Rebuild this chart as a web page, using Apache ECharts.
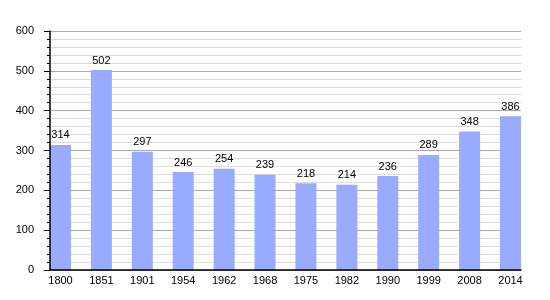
<!DOCTYPE html>
<html><head><meta charset="utf-8">
<script src="https://cdn.jsdelivr.net/npm/echarts@6/dist/echarts.min.js"></script>
<style>html,body{margin:0;padding:0;background:#fff}#c{width:550px;height:300px}</style>
</head><body><div id="c"></div>
<script>
var categories = ['1800','1851','1901','1954','1962','1968','1975','1982','1990','1999','2008','2014'];
var population = [314,502,297,246,254,239,218,214,236,289,348,386];
var yMin = 0, yMax = 600, yStep = 100;

var FONT = 'Liberation Sans';
var chart = echarts.init(document.getElementById('c'), null, {renderer: 'canvas'});
chart.setOption({
  animation: false,
  backgroundColor: '#ffffff',
  grid: [
    {left: 50, right: 29, top: 31, bottom: 30},
    {left: 40.05, right: 19.05, top: 31, bottom: 30},
    {left: 50, right: 29, top: 31, bottom: 30}
  ],
  xAxis: [
    {gridIndex: 0, type: 'category', data: categories, show: false, splitLine: {show: false}},
    {gridIndex: 1, type: 'category', data: categories, boundaryGap: true,
     axisLine: {show: false}, axisTick: {show: false},
     axisLabel: {show: true, color: '#000', fontFamily: FONT, fontSize: 11, margin: 5, interval: 0},
     splitLine: {show: false}},
    {gridIndex: 2, type: 'category', data: categories, boundaryGap: true, z: 5,
     axisLine: {show: true, lineStyle: {color: '#000', width: 1.5}},
     axisTick: {show: false}, axisLabel: {show: false}, splitLine: {show: false}}
  ],
  yAxis: [
    {gridIndex: 0, type: 'value', min: yMin, max: yMax, interval: yStep,
     axisLine: {show: false}, axisTick: {show: false}, axisLabel: {show: false},
     splitLine: {show: true, lineStyle: {color: '#a8a8a8', width: 1}},
     minorTick: {show: false, splitNumber: 5},
     minorSplitLine: {show: true, lineStyle: {color: '#dcdcdc', width: 1}}},
    {gridIndex: 1, type: 'value', min: yMin, max: yMax, interval: yStep, show: false,
     splitLine: {show: false}},
    {gridIndex: 2, type: 'value', min: yMin, max: yMax, interval: yStep, z: 5,
     axisLine: {show: true, lineStyle: {color: '#000', width: 1.5}},
     axisTick: {show: true, inside: false, length: 6, lineStyle: {color: '#000'}},
     minorTick: {show: true, splitNumber: 5, length: 3, lineStyle: {color: '#000'}},
     axisLabel: {color: '#000', fontFamily: FONT, fontSize: 11, margin: 16},
     splitLine: {show: false}, minorSplitLine: {show: false}}
  ],
  series: [{
    type: 'bar', xAxisIndex: 1, yAxisIndex: 1, data: population, barWidth: 21,
    itemStyle: {color: '#99abff'},
    label: {show: true, position: 'top', distance: 4, color: '#000', fontFamily: FONT, fontSize: 11}
  }]
});
</script></body></html>
